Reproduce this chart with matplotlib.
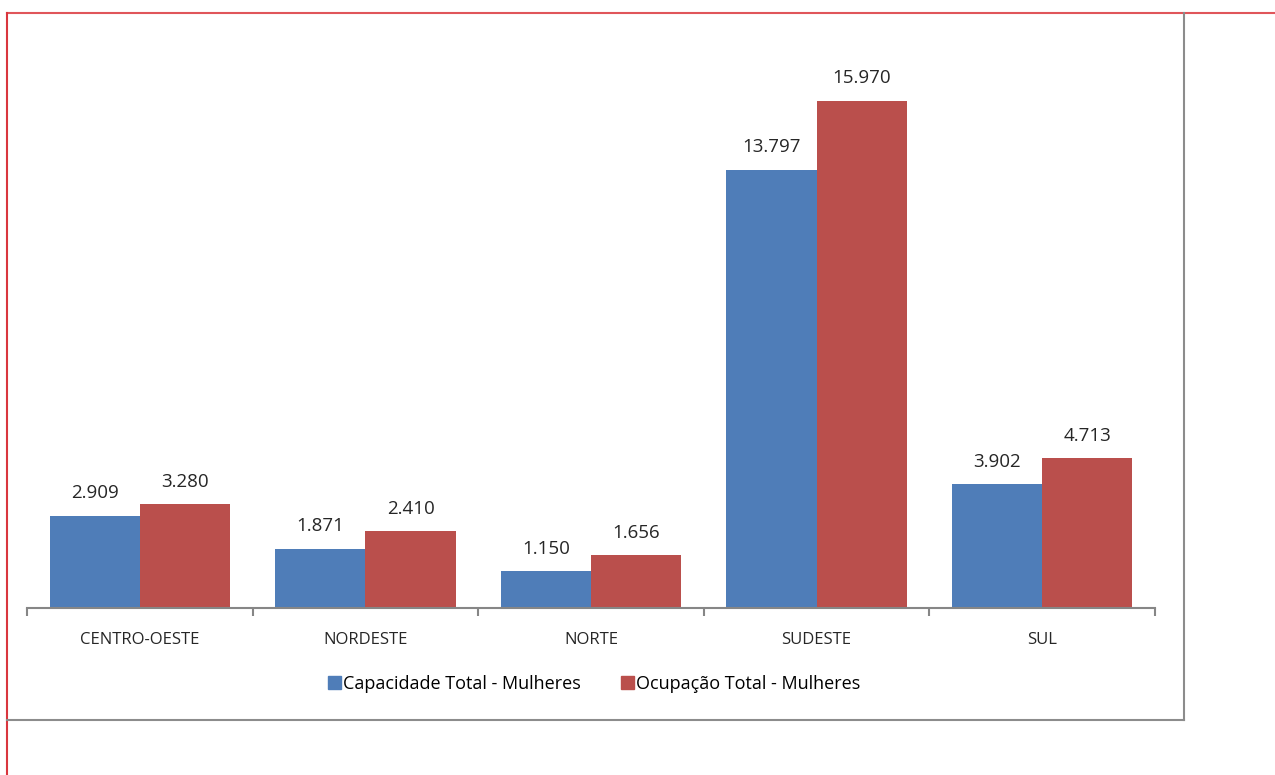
import numpy as np
import matplotlib.pyplot as plt
from matplotlib.lines import Line2D
from matplotlib.patches import Patch

plt.rcParams['font.family'] = ['Open Sans', 'DejaVu Sans']

regioes = ['CENTRO-OESTE', 'NORDESTE', 'NORTE', 'SUDESTE', 'SUL']
capacidade = [2909, 1871, 1150, 13797, 3902]
ocupacao = [3280, 2410, 1656, 15970, 4713]
series_labels = ['Capacidade Total - Mulheres', 'Ocupação Total - Mulheres']

W, H = 1275, 775
fig = plt.figure(figsize=(W / 100, H / 100), dpi=100)
ax = fig.add_axes([27 / W, 1 - 608 / H, (1155 - 27) / W, (608 - 36) / H])

x = np.arange(len(regioes))
width = 0.4
blue = '#4F7DB8'
red = '#BA4F4C'
b1 = ax.bar(x - width / 2, capacidade, width, color=blue, label=series_labels[0])
b2 = ax.bar(x + width / 2, ocupacao, width, color=red, label=series_labels[1])


def fmt(v):
    return f'{v:,}'.replace(',', '.')


for bars, vals in [(b1, capacidade), (b2, ocupacao)]:
    for rect, v in zip(bars, vals):
        ax.annotate(fmt(v), (rect.get_x() + rect.get_width() / 2, v),
                    xytext=(0, 9.5), textcoords='offset points',
                    ha='center', va='bottom', fontsize=13.5, color='#262626')

ax.set_xlim(-0.5, len(regioes) - 0.5)
ax.set_ylim(0, 18000)
ax.set_yticks([])
ax.set_xticks(x)
ax.set_xticklabels(regioes, fontsize=12, color='#262626')
ax.tick_params(axis='x', length=0, pad=17)
# category boundary ticks
ax.set_xticks(np.arange(-0.5, len(regioes)), minor=True)
ax.tick_params(axis='x', which='minor', length=6, color='#868686', width=1.5)
for s in ['top', 'right', 'left']:
    ax.spines[s].set_visible(False)
ax.spines['bottom'].set_color('#868686')
ax.spines['bottom'].set_linewidth(1.5)

handles = [Patch(color=blue), Patch(color=red)]
fig.legend(handles, series_labels, loc='center', bbox_to_anchor=(594 / W, 1 - 684 / H),
           ncol=2, frameon=False, fontsize=13, handlelength=0.75, handleheight=0.75,
           handletextpad=0.1, columnspacing=2.2)

# frame lines
def fl(x0, y0, x1, y1, c, lw):
    fig.add_artist(Line2D([x0 / W, x1 / W], [1 - y0 / H, 1 - y1 / H], color=c, lw=lw))

fl(7, 13, W, 13, '#E0555A', 1.5)
fl(7, 13, 7, H, '#D9363E', 1.5)
fl(1184, 13, 1184, 720, '#8C8C8C', 1.5)
fl(7, 720, 1184, 720, '#8C8C8C', 1.5)

fig.savefig('out.png', dpi=100)
